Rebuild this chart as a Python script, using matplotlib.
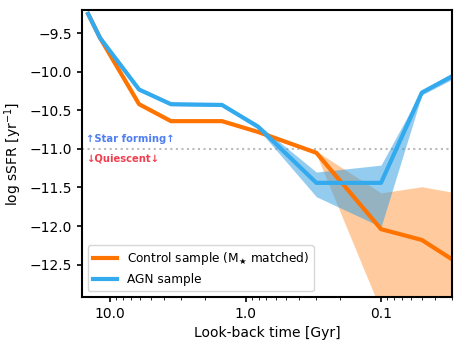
import matplotlib

matplotlib.use("Agg")
import matplotlib.pyplot as plt

# look-back time bins [Gyr]
t_gyr = [14.5, 11.85, 6.1, 3.55, 1.49, 0.81, 0.30, 0.10, 0.050, 0.030]

# control sample (M* matched)
ctrl_med = [-9.25, -9.56, -10.42, -10.64, -10.64, -10.78, -11.05, -12.04, -12.18, -12.43]
ctrl_lo = [-9.26, -9.57, -10.43, -10.65, -10.65, -10.79, -11.07, -13.10, -13.10, -13.10]
ctrl_hi = [-9.24, -9.55, -10.41, -10.63, -10.63, -10.77, -11.03, -11.57, -11.49, -11.56]

# AGN sample
agn_med = [-9.25, -9.56, -10.23, -10.42, -10.43, -10.71, -11.44, -11.44, -10.27, -10.06]
agn_lo = [-9.27, -9.58, -10.25, -10.44, -10.45, -10.74, -11.62, -12.01, -10.30, -10.10]
agn_hi = [-9.23, -9.54, -10.21, -10.40, -10.41, -10.68, -11.30, -11.21, -10.24, -10.02]

c_ctrl = "#ff7300"
c_agn = "#33aaee"

fig = plt.figure(figsize=(4.63, 3.47), dpi=100)
ax = fig.add_axes([0.177, 0.144, 0.799, 0.827])

ax.fill_between(t_gyr, ctrl_lo, ctrl_hi, color="#ff7f0e", alpha=0.4, lw=0)
ax.fill_between(t_gyr, agn_lo, agn_hi, color="#2a9be0", alpha=0.5, lw=0)
ax.plot(t_gyr, ctrl_med, color=c_ctrl, lw=3, label=r"Control sample (M$_\bigstar$ matched)")
ax.plot(t_gyr, agn_med, color=c_agn, lw=3, label="AGN sample")

ax.axhline(-11.0, color="#bbbbbb", ls=":", lw=1.5, zorder=0)
ax.text(0.012, 0.55, "↑Star forming↑", transform=ax.transAxes, color="#4f7ff0",
        fontsize=7.2, fontweight="bold", va="center")
ax.text(0.012, 0.484, "↓Quiescent↓", transform=ax.transAxes, color="#f04050",
        fontsize=7.2, fontweight="bold", va="center")

ax.set_xscale("log")
ax.set_xlim(16.1, 0.03)
ax.set_ylim(-12.92, -9.2)
ax.set_xticks([10.0, 1.0, 0.1])
ax.set_xticklabels(["10.0", "1.0", "0.1"])
ax.set_yticks([-9.5, -10.0, -10.5, -11.0, -11.5, -12.0, -12.5])
ax.tick_params(labelsize=10, width=1.2)
for s in ax.spines.values():
    s.set_linewidth(1.5)

ax.set_xlabel("Look-back time [Gyr]", fontsize=10)
ax.set_ylabel(r"log sSFR [yr$^{-1}$]", fontsize=10)
ax.legend(loc="lower left", fontsize=8.7)

fig.savefig("out.png", dpi=100)
